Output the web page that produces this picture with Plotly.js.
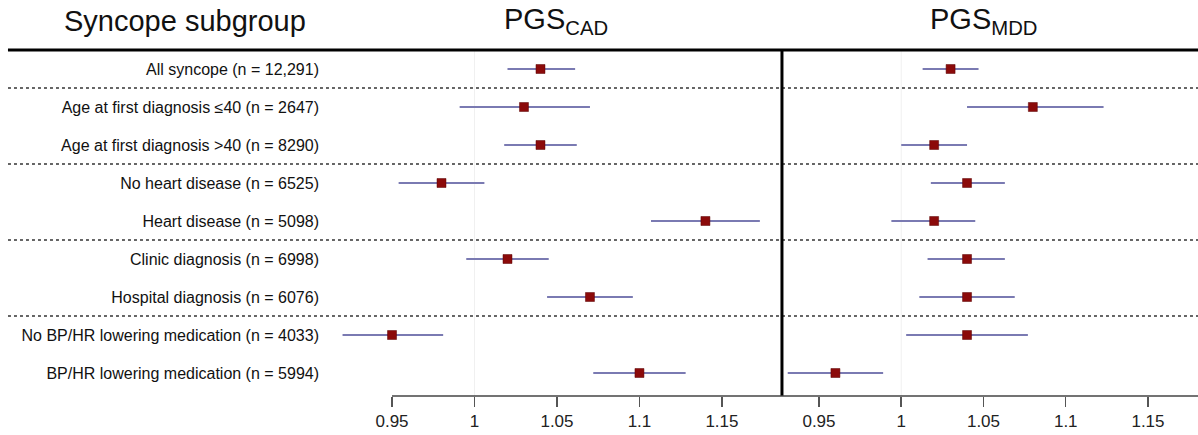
<!DOCTYPE html>
<html>
<head>
<meta charset="utf-8">
<script src="https://cdn.plot.ly/plotly-3.0.1.min.js"></script>
<style>html,body{margin:0;padding:0;background:#fff;}#chart{width:1198px;height:435px;}</style>
</head>
<body>
<div id="chart"></div>
<script>
// ---- data ----
var categories = [
  "All syncope (n = 12,291)",
  "Age at first diagnosis \u226440 (n = 2647)",
  "Age at first diagnosis >40 (n = 8290)",
  "No heart disease (n = 6525)",
  "Heart disease (n = 5098)",
  "Clinic diagnosis (n = 6998)",
  "Hospital diagnosis (n = 6076)",
  "No BP/HR lowering medication (n = 4033)",
  "BP/HR lowering medication (n = 5994)"
];
var rowIndex = [1, 2, 3, 4, 5, 6, 7, 8, 9];
var groupBreaks = [1.5, 3.5, 5.5, 7.5];

var cadEst = [1.04, 1.03, 1.04, 0.98, 1.14, 1.02, 1.07, 0.95, 1.10];
var cadLo  = [1.020, 0.991, 1.018, 0.954, 1.107, 0.995, 1.044, 0.920, 1.072];
var cadHi  = [1.061, 1.070, 1.062, 1.006, 1.173, 1.045, 1.096, 0.981, 1.128];

var mddEst = [1.03, 1.08, 1.02, 1.04, 1.02, 1.04, 1.04, 1.04, 0.96];
var mddLo  = [1.013, 1.040, 1.000, 1.018, 0.994, 1.016, 1.011, 1.003, 0.931];
var mddHi  = [1.047, 1.123, 1.040, 1.063, 1.045, 1.063, 1.069, 1.077, 0.989];

var tickVals = [0.95, 1, 1.05, 1.1, 1.15];
var tickText = ["0.95", "1", "1.05", "1.1", "1.15"];
var panelTitles = ["PGS<sub>CAD</sub>", "PGS<sub>MDD</sub>"];
var columnTitle = "Syncope subgroup";

// ---- styling ----
var FONT = "Liberation Sans, Arial, Helvetica, sans-serif";
var ciColor = "#7a7ab2";
var ptColor = "#8b0a0a";
var cadRange = [0.9124, 1.1864];
var mddRange = [0.9275, 1.1804];
var split = 0.5207;

function diff(a, b) { return a.map(function (v, i) { return v - b[i]; }); }

function forestTrace(est, lo, hi, xa) {
  return {
    type: "scatter", mode: "markers", xaxis: xa, yaxis: "y",
    x: est, y: rowIndex, hoverinfo: "skip", showlegend: false,
    marker: { symbol: "square", size: 9, color: ptColor, line: { color: "#5a0000", width: 0.5 } },
    error_x: { type: "data", symmetric: false, array: diff(hi, est), arrayminus: diff(est, lo),
               color: ciColor, thickness: 2, width: 0 }
  };
}

var data = [
  forestTrace(cadEst, cadLo, cadHi, "x"),
  forestTrace(mddEst, mddLo, mddHi, "x2")
];

var xaxisCommon = {
  tickvals: tickVals, ticktext: tickText, ticks: "outside", ticklen: 10, tickwidth: 1.5,
  tickcolor: "#555", showline: false, showgrid: false, zeroline: false, fixedrange: true,
  tickfont: { family: FONT, size: 17, color: "#222" }
};

var shapes = [];
// faint reference lines at 1
shapes.push({ type: "line", xref: "x", yref: "paper", x0: 1, x1: 1, y0: 0, y1: 1, layer: "below", line: { color: "#f0f0f0", width: 1 } });
shapes.push({ type: "line", xref: "x2", yref: "paper", x0: 1, x1: 1, y0: 0, y1: 1, layer: "below", line: { color: "#f0f0f0", width: 1 } });
// group separators
groupBreaks.forEach(function (g) {
  shapes.push({ type: "line", xref: "paper", yref: "y", x0: -0.371, x1: 1, y0: g, y1: g, line: { color: "#333", width: 1.5, dash: "dot" } });
});
// header rule
shapes.push({ type: "line", xref: "paper", yref: "paper", x0: -0.371, x1: 1, y0: 1, y1: 1, line: { color: "#000", width: 3 } });
// divider
shapes.push({ type: "line", xref: "paper", yref: "paper", x0: split, x1: split, y0: 0, y1: 1, line: { color: "#000", width: 3 } });
// bottom axis lines
shapes.push({ type: "line", xref: "x", yref: "paper", x0: tickVals[0], x1: cadRange[1], y0: 0, y1: 0, line: { color: "#444", width: 1.5 } });
shapes.push({ type: "line", xref: "x2", yref: "paper", x0: mddRange[0], x1: mddRange[1], y0: 0, y1: 0, line: { color: "#444", width: 1.5 } });

var annotations = [
  { text: columnTitle, xref: "paper", yref: "paper", x: -0.309, y: 1.085, xanchor: "left", yanchor: "middle", showarrow: false, font: { family: FONT, size: 29, color: "#111" } },
  { text: panelTitles[0], xref: "paper", yref: "paper", x: split / 2, y: 1.085, xanchor: "center", yanchor: "middle", showarrow: false, font: { family: FONT, size: 29, color: "#111" } },
  { text: panelTitles[1], xref: "paper", yref: "paper", x: (split + 1) / 2 - 0.008, y: 1.085, xanchor: "center", yanchor: "middle", showarrow: false, font: { family: FONT, size: 29, color: "#111" } }
];

var layout = {
  width: 1198, height: 435,
  margin: { l: 330, r: 0, t: 50, b: 39, pad: 0 },
  paper_bgcolor: "#fff", plot_bgcolor: "#fff",
  showlegend: false,
  xaxis: Object.assign({}, xaxisCommon, { domain: [0, split], range: cadRange }),
  xaxis2: Object.assign({}, xaxisCommon, { domain: [split, 1], range: mddRange, anchor: "y" }),
  yaxis: {
    range: [9.605, 0.5], tickvals: rowIndex, ticktext: categories, ticks: "",
    showline: false, showgrid: false, zeroline: false, fixedrange: true,
    ticklabelstandoff: 10,
    tickfont: { family: FONT, size: 16, color: "#111" }
  },
  shapes: shapes,
  annotations: annotations
};

Plotly.newPlot("chart", data, layout, { displayModeBar: false, staticPlot: true });
</script>
</body>
</html>
